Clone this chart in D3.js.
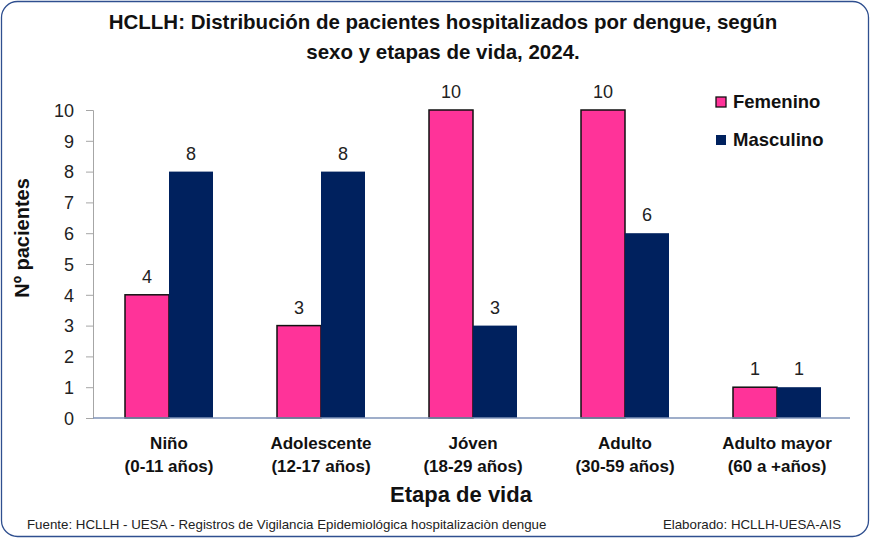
<!DOCTYPE html>
<html>
<head>
<meta charset="utf-8">
<script src="https://cdn.jsdelivr.net/npm/d3@7"></script>
<style>
  body { margin: 0; background: #fff; }
  svg text { font-family: "Liberation Sans", Arial, sans-serif; }
</style>
</head>
<body>
<svg id="chart"></svg>
<script>
// base svg values
let width = 870
let height = 538

// data
let categories = ["Niño", "Adolescente", "Jóven", "Adulto", "Adulto mayor"]
let ranges = ["(0-11 años)", "(12-17 años)", "(18-29 años)", "(30-59 años)", "(60 a +años)"]
let series = ["Femenino", "Masculino"]
let femenino = [4, 3, 10, 10, 1]
let masculino = [8, 8, 3, 6, 1]
let yTicks = [0, 1, 2, 3, 4, 5, 6, 7, 8, 9, 10]

let colors = { Femenino: "#ff3399", Masculino: "#00215e" }

let padding = { left: 93, top: 110, right: 17, bottom: 120 }

let svg = d3.select("#chart")
  .attr("width", width)
  .attr("height", height)

// outer frame
svg.append("rect")
  .attr("x", 1.5).attr("y", 1.5)
  .attr("width", width - 3).attr("height", height - 3)
  .attr("rx", 16)
  .attr("fill", "#fff")
  .attr("stroke", "#2f4f8f")
  .attr("stroke-width", 1.3)

// scales
let xScale = d3.scaleBand()
  .domain(categories)
  .range([padding.left, width - padding.right])
  .paddingInner(64 / 152)
  .paddingOuter(32 / 152)

let yScale = d3.scaleLinear()
  .domain([0, 10])
  .range([height - padding.bottom, padding.top])

let bw = xScale.bandwidth() / 2

// title
svg.append("text")
  .attr("x", 443).attr("y", 29)
  .attr("text-anchor", "middle")
  .style("font-size", "20.5px").style("font-weight", "bold")
  .attr("fill", "#111")
  .text("HCLLH: Distribución de pacientes hospitalizados por dengue, según")
svg.append("text")
  .attr("x", 443).attr("y", 59)
  .attr("text-anchor", "middle")
  .style("font-size", "20.5px").style("font-weight", "bold")
  .attr("fill", "#111")
  .text("sexo y etapas de vida, 2024.")

// y axis
let axisY = d3.axisLeft(yScale).tickValues(yTicks).tickSize(7).tickPadding(12)
let gy = svg.append("g")
  .attr("transform", `translate(${padding.left},0)`)
  .call(axisY)
gy.select(".domain").attr("stroke", "#a6a6a6")
gy.selectAll(".tick line").attr("stroke", "#a6a6a6")
gy.selectAll(".tick text")
  .style("font-size", "18px")
  .attr("fill", "#222")
  .attr("dy", "0.35em")

// bars
let rows = categories.map((c, i) => ({ cat: c, Femenino: femenino[i], Masculino: masculino[i] }))

series.forEach((s, si) => {
  svg.append("g")
    .selectAll("rect")
    .data(rows)
    .enter()
    .append("rect")
      .attr("x", d => xScale(d.cat) + si * bw)
      .attr("y", d => yScale(d[s]))
      .attr("width", bw)
      .attr("height", d => yScale(0) - yScale(d[s]))
      .attr("fill", colors[s])
      .attr("stroke", s === "Femenino" ? "#111" : "none")
      .attr("stroke-width", 1.5)

  svg.append("g")
    .selectAll("text")
    .data(rows)
    .enter()
    .append("text")
      .attr("x", d => xScale(d.cat) + si * bw + bw / 2)
      .attr("y", d => yScale(d[s]) - 12)
      .attr("text-anchor", "middle")
      .style("font-size", "18px")
      .attr("fill", "#222")
      .text(d => d[s])
})

// x axis line
svg.append("line")
  .attr("x1", padding.left).attr("x2", width - padding.right - 3)
  .attr("y1", yScale(0)).attr("y2", yScale(0))
  .attr("stroke", "#7f93b8").attr("stroke-width", 1.5)

// category labels
let catG = svg.append("g")
  .selectAll("text")
  .data(categories)
  .enter()
  .append("text")
    .attr("x", d => xScale(d) + xScale.bandwidth() / 2)
    .attr("text-anchor", "middle")
    .style("font-size", "17px").style("font-weight", "bold")
    .attr("fill", "#111")
catG.append("tspan").attr("y", 449).attr("x", d => xScale(d) + xScale.bandwidth() / 2).text(d => d)
catG.append("tspan").attr("y", 472).attr("x", d => xScale(d) + xScale.bandwidth() / 2).text((d, i) => ranges[i])

// axis titles
svg.append("text")
  .attr("x", 461).attr("y", 502)
  .attr("text-anchor", "middle")
  .style("font-size", "22px").style("font-weight", "bold")
  .attr("fill", "#111")
  .text("Etapa de vida")

svg.append("text")
  .attr("transform", "rotate(-90)")
  .attr("x", -238).attr("y", 29)
  .attr("text-anchor", "middle")
  .style("font-size", "20px").style("font-weight", "bold")
  .attr("fill", "#111")
  .text("Nº pacientes")

// legend
series.forEach((s, i) => {
  let ly = 102 + i * 38
  svg.append("rect")
    .attr("x", 716).attr("y", ly - 5)
    .attr("width", 10).attr("height", 10)
    .attr("fill", colors[s])
    .attr("stroke", s === "Femenino" ? "#111" : "none")
    .attr("stroke-width", 1.3)
  svg.append("text")
    .attr("x", 733).attr("y", ly + 6)
    .style("font-size", "18.5px").style("font-weight", "bold")
    .attr("fill", "#111")
    .text(s)
})

// footer
svg.append("text")
  .attr("x", 27).attr("y", 529)
  .style("font-size", "13.3px")
  .attr("fill", "#222")
  .text("Fuente: HCLLH - UESA - Registros de Vigilancia Epidemiológica hospitalizaciòn dengue")
svg.append("text")
  .attr("x", 841).attr("y", 529)
  .attr("text-anchor", "end")
  .style("font-size", "13.3px")
  .attr("fill", "#222")
  .text("Elaborado: HCLLH-UESA-AIS")
</script>
</body>
</html>
